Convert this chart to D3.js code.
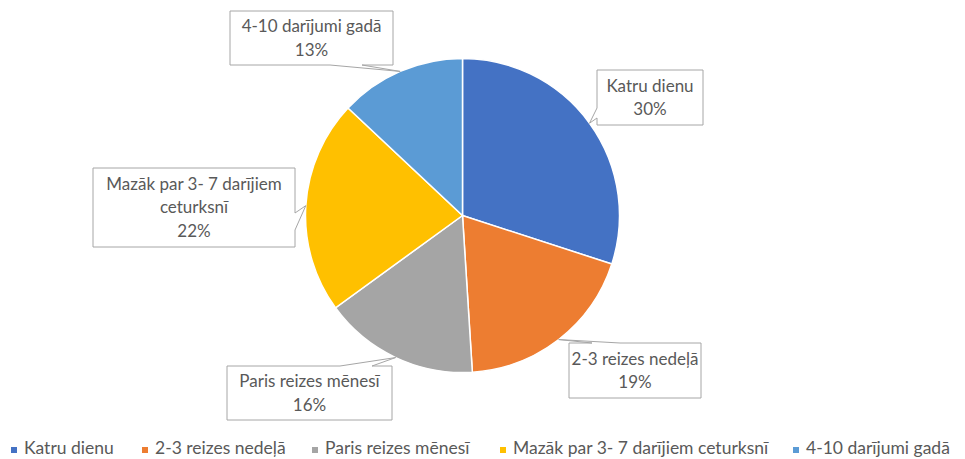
<!DOCTYPE html>
<html>
<head>
<meta charset="utf-8">
<script src="https://cdn.jsdelivr.net/npm/d3@7"></script>
<style>
  body { margin: 0; background: #fff; }
  text { font-family: Lato, "Liberation Sans", sans-serif; fill: #595959; }
</style>
</head>
<body>
<svg id="chart" width="965" height="459"></svg>
<script>
// data
var categories = ["Katru dienu", "2-3 reizes nedeļā", "Paris reizes mēnesī", "Mazāk par 3- 7 darījiem ceturksnī", "4-10 darījumi gadā"];
var values = [30, 19, 16, 22, 13];
var colors = ["#4472C4", "#ED7D31", "#A5A5A5", "#FFC000", "#5B9BD5"];
// label lines as shown in callouts
var labelLines = [["Katru dienu"], ["2-3 reizes nedeļā"], ["Paris reizes mēnesī"], ["Mazāk par 3- 7 darījiem", "ceturksnī"], ["4-10 darījumi gadā"]];

// callout boxes: x, y, w, h, side the pointer leaves from, pointer base along that side
var boxes = [
  {x: 597, y: 70,  w: 106, h: 55, side: "left",   a: 108, b: 118},
  {x: 569, y: 343, w: 132, h: 55, side: "top",    a: 592, b: 620},
  {x: 227, y: 366, w: 165, h: 54, side: "top",    a: 340, b: 372},
  {x: 93,  y: 168, w: 202, h: 79, side: "right",  a: 213, b: 230},
  {x: 230, y: 11,  w: 163, h: 54, side: "bottom", a: 330, b: 362}
];

var cx = 462.5, cy = 215.5, r = 157;
var svg = d3.select("#chart");

var pie = d3.pie().sort(null).value(function(d) { return d; });
var arcs = pie(values);
var arc = d3.arc().innerRadius(0).outerRadius(r);

var g = svg.append("g").attr("transform", "translate(" + cx + "," + cy + ")");
g.selectAll("path.slice")
  .data(arcs)
  .enter().append("path")
    .attr("class", "slice")
    .attr("d", arc)
    .attr("fill", function(d, i) { return colors[i]; })
    .attr("stroke", "#fff")
    .attr("stroke-width", 1.5);

// callout outline with a pointer to the slice edge
function calloutPath(b, tip) {
  var x0 = b.x, y0 = b.y, x1 = b.x + b.w, y1 = b.y + b.h;
  var p = [];
  p.push([x0, y0]);
  if (b.side === "top") { p.push([b.a, y0], tip, [b.b, y0]); }
  p.push([x1, y0]);
  if (b.side === "right") { p.push([x1, b.a], tip, [x1, b.b]); }
  p.push([x1, y1]);
  if (b.side === "bottom") { p.push([b.b, y1], tip, [b.a, y1]); }
  p.push([x0, y1]);
  if (b.side === "left") { p.push([x0, b.b], tip, [x0, b.a]); }
  return "M" + p.map(function(q) { return q[0] + "," + q[1]; }).join("L") + "Z";
}

var labels = svg.selectAll("g.callout")
  .data(arcs)
  .enter().append("g")
    .attr("class", "callout");

labels.append("path")
  .attr("d", function(d, i) {
    var mid = (d.startAngle + d.endAngle) / 2;
    var tip = [cx + r * Math.sin(mid), cy - r * Math.cos(mid)];
    return calloutPath(boxes[i], tip);
  })
  .attr("fill", "#fff")
  .attr("stroke", "#a6a6a6")
  .attr("stroke-width", 1);

labels.each(function(d, i) {
  var b = boxes[i];
  var lines = labelLines[i].concat([values[i] + "%"]);
  var lh = 23.5;
  var top = b.y + b.h / 2 - (lines.length - 1) * lh / 2;
  d3.select(this).selectAll("text")
    .data(lines)
    .enter().append("text")
      .attr("x", b.x + b.w / 2)
      .attr("y", function(t, j) { return top + j * lh; })
      .attr("dy", "0.35em")
      .attr("text-anchor", "middle")
      .style("font-size", "17px")
      .text(function(t) { return t; });
});

// legend
var legendX = [11, 142, 312, 500, 793];
var legend = svg.selectAll("g.legend")
  .data(categories)
  .enter().append("g")
    .attr("class", "legend")
    .attr("transform", function(d, i) { return "translate(" + legendX[i] + ",448)"; });
legend.append("rect")
  .attr("x", 0).attr("y", -1)
  .attr("width", 6).attr("height", 6)
  .attr("fill", function(d, i) { return colors[i]; });
legend.append("text")
  .attr("x", 13)
  .attr("dy", "0.35em")
  .style("font-size", "17.5px")
  .text(function(d) { return d; });
</script>
</body>
</html>
